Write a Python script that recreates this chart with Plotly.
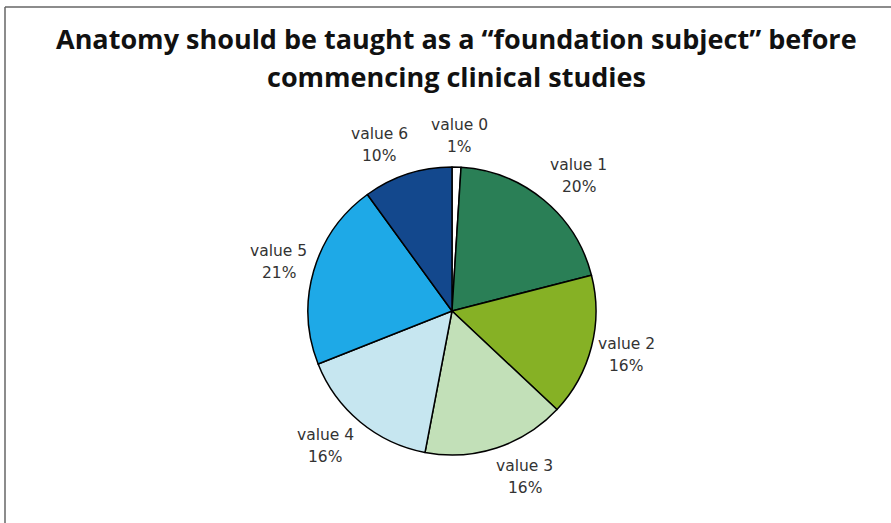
import math
import plotly.graph_objects as go

labels = ["value 0", "value 1", "value 2", "value 3", "value 4", "value 5", "value 6"]
values = [1, 20, 16, 16, 16, 21, 10]
colors = ["#ffffff", "#2a7f56", "#86b125", "#c2e0b8", "#c6e6f0", "#1ea9e7", "#13488d"]
title_lines = ["Anatomy should be taught as a \u201cfoundation subject\u201d before",
               "commencing clinical studies"]

W, H = 891, 523
CX, CY, R = 452, 311, 144  # pie centre / radius in pixels

fig = go.Figure(go.Pie(
    labels=labels, values=values, sort=False, direction="clockwise", rotation=0,
    marker=dict(colors=colors, line=dict(color="#000000", width=1.5)),
    textinfo="none", hoverinfo="label+percent", showlegend=False,
    domain=dict(x=[(CX - R) / W, (CX + R) / W], y=[(H - CY - R) / H, (H - CY + R) / H]),
))

total = sum(values)
cum = 0
annotations = []
lab_font = dict(family="DejaVu Sans", size=15.5, color="#333333")
for lab, v in zip(labels, values):
    mid = (cum + v / 2) / total * 2 * math.pi
    cum += v
    s, c = math.sin(mid), math.cos(mid)
    px = CX + R * s + 35 * max(-1.0, min(1.0, s / 0.38))
    py = CY - (R + 31) * c
    for txt, dy in ((lab, -11), (f"{round(v / total * 100)}%", 11)):
        annotations.append(dict(
            x=px / W, y=1 - (py + dy) / H, xref="paper", yref="paper",
            text=txt, showarrow=False, xanchor="center", yanchor="middle",
            font=lab_font,
        ))

for i, line in enumerate(title_lines):
    annotations.append(dict(
        x=456 / W, y=1 - (38 + 38 * i) / H, xref="paper", yref="paper",
        xanchor="center", yanchor="middle",
        text="<b>" + line + "</b>", showarrow=False,
        font=dict(family="Open Sans", size=27, color="#111111"),
    ))

fig.update_layout(
    width=W, height=H, margin=dict(l=0, r=0, t=0, b=0),
    paper_bgcolor="white", plot_bgcolor="white",
    annotations=annotations,
    shapes=[
        dict(type="line", xref="paper", yref="paper", x0=5 / W, x1=1, y0=1 - 7 / H, y1=1 - 7 / H,
             line=dict(color="#666666", width=1.5)),
        dict(type="line", xref="paper", yref="paper", x0=5 / W, x1=5 / W, y0=0, y1=1 - 7 / H,
             line=dict(color="#666666", width=1.5)),
    ],
)

fig.write_html("out.html", config={"displayModeBar": False},
               post_script="document.body.style.margin='0';document.body.style.overflow='hidden';")
